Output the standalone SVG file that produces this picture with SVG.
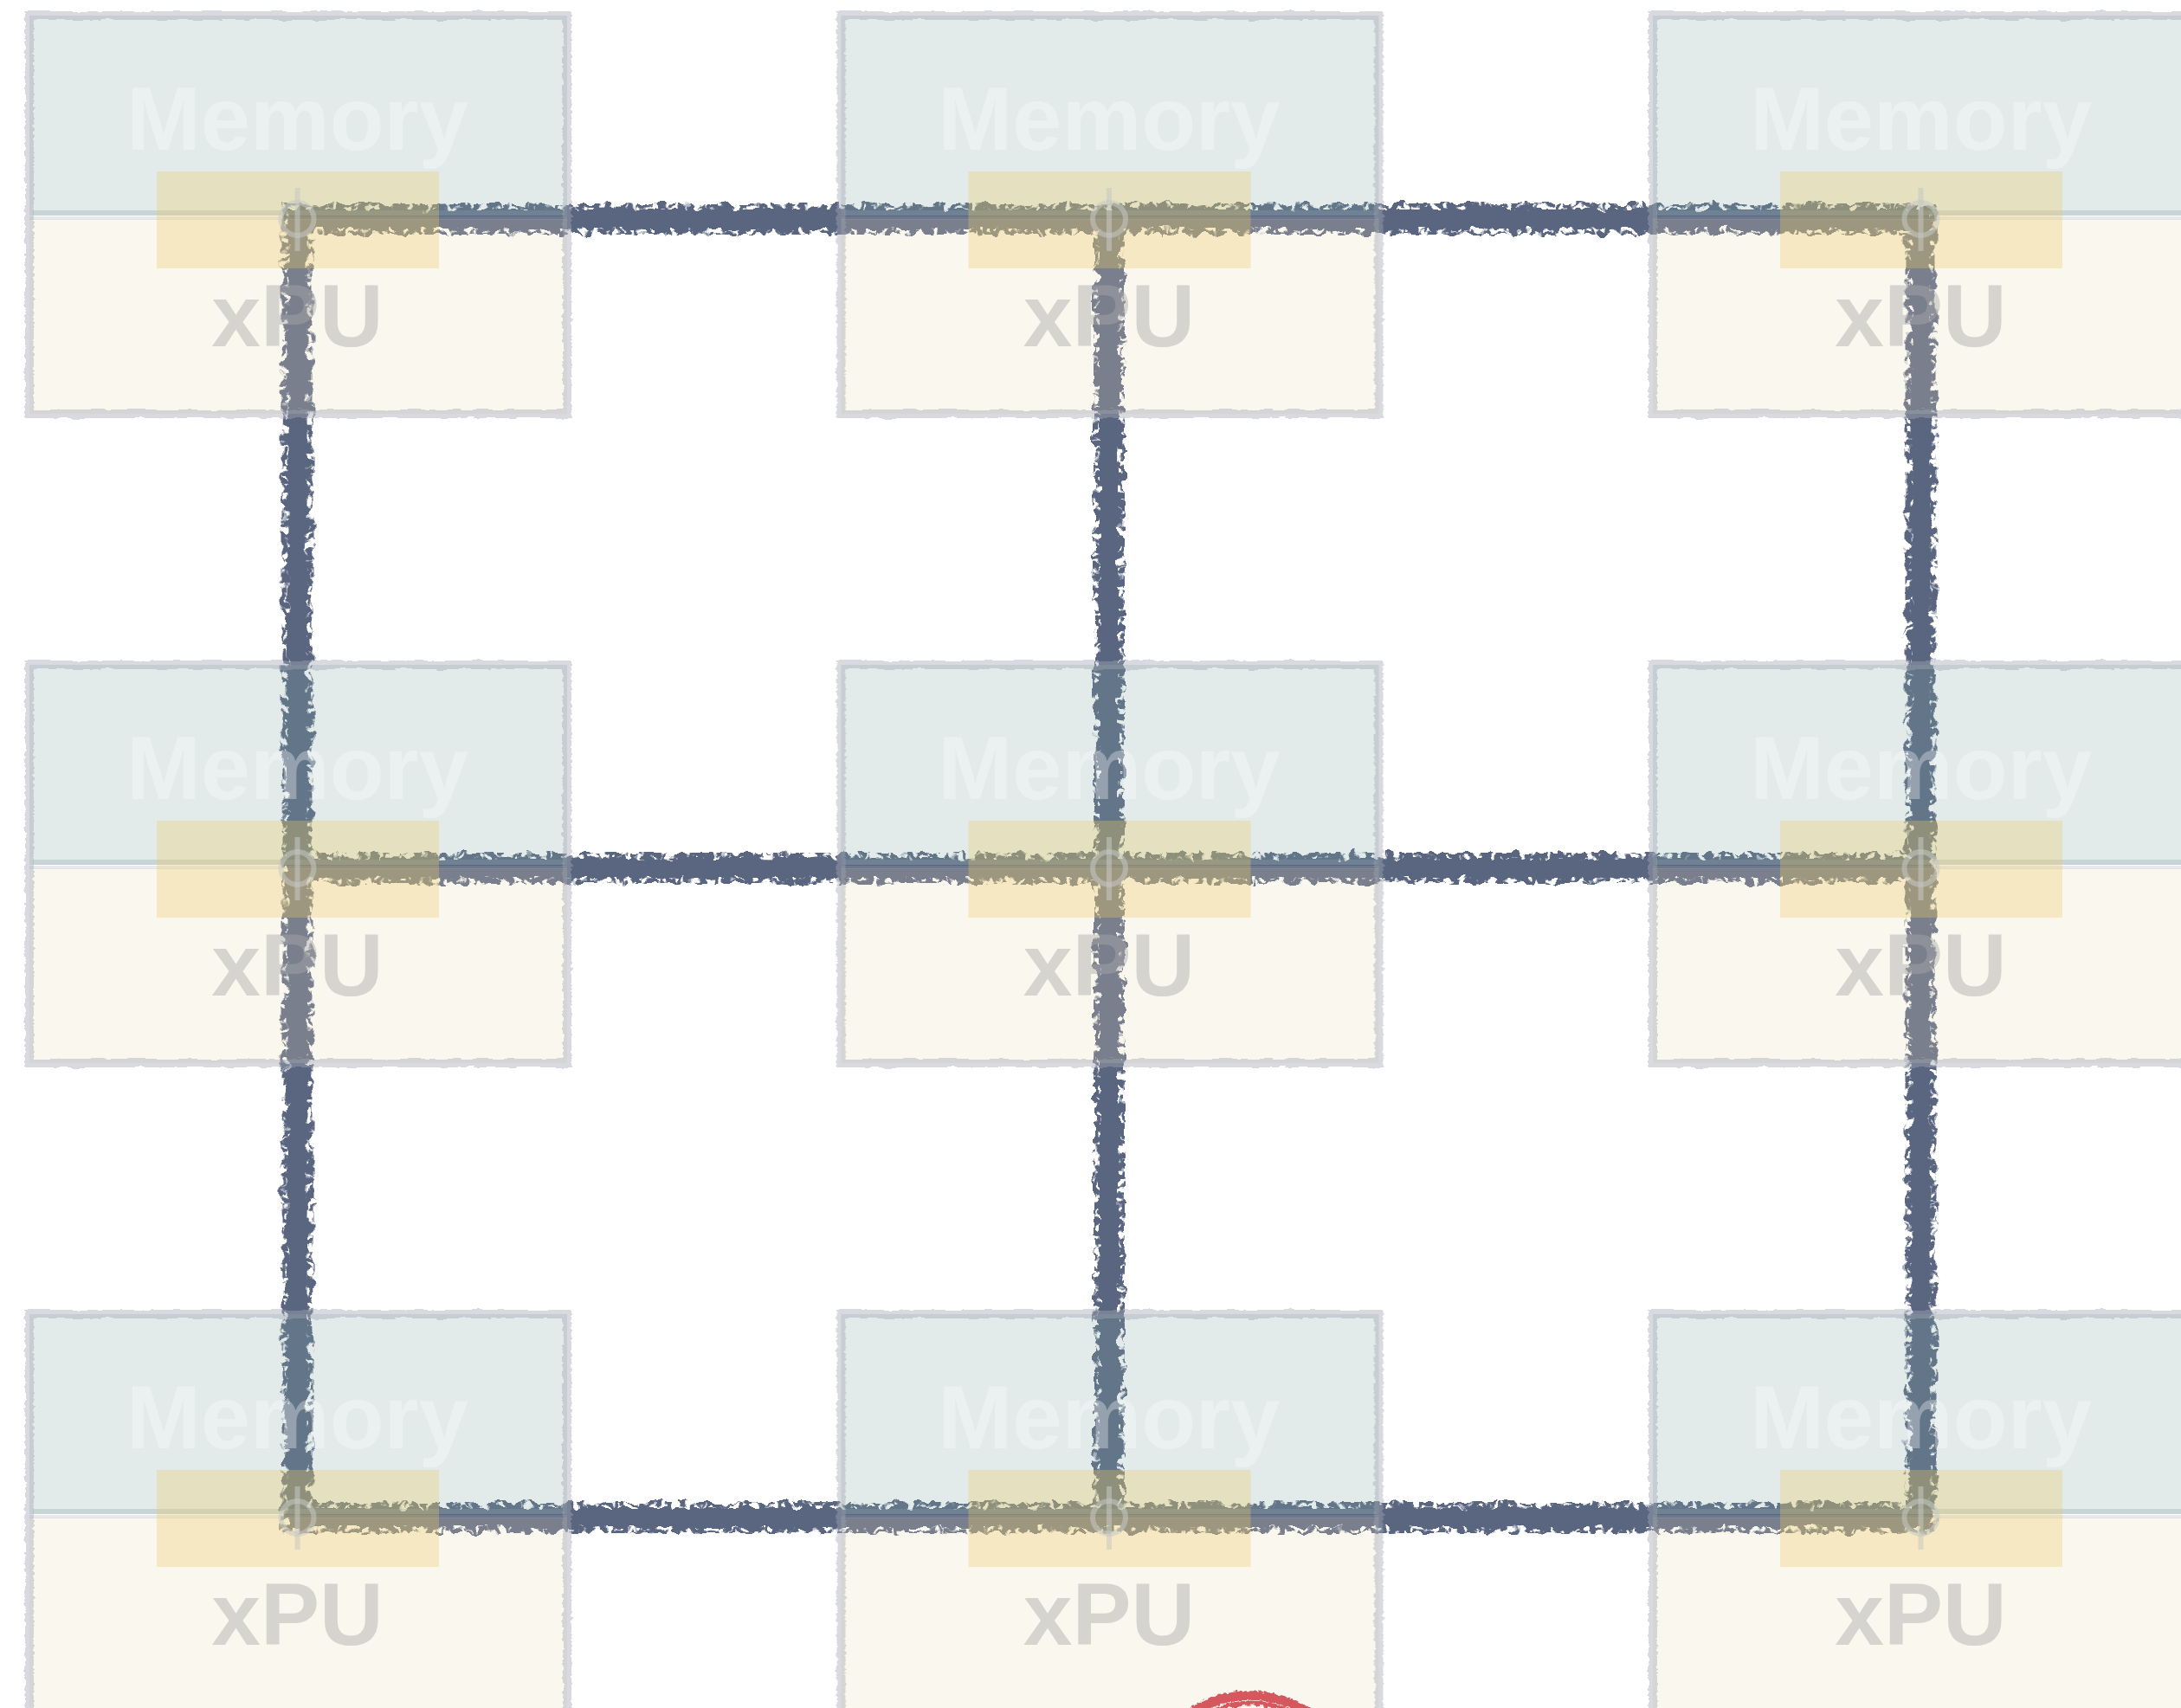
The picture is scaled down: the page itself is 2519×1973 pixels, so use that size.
<svg xmlns="http://www.w3.org/2000/svg" width="2519" height="1973" viewBox="0 0 2519 1973">
<defs>
<style>
.frame{fill:none;stroke:#a2a8b3;stroke-opacity:0.42;stroke-width:10}
.frame2{fill:none;stroke:#a2a8b3;stroke-opacity:0.25;stroke-width:4}
.mem{fill:#81a8a4;fill-opacity:0.23}
.xpu{fill:#e6d9b8;fill-opacity:0.22}
.sep{fill:none;stroke:#8aa2ab;stroke-opacity:0.3;stroke-width:6}
.hl{fill:#ecca64;fill-opacity:0.32}
.tmem{font-family:"Liberation Sans",Arial,Helvetica,sans-serif;font-weight:bold;font-size:103px;fill:#ffffff;fill-opacity:0.32;text-anchor:middle}
.txpu{font-family:"Liberation Sans",Arial,Helvetica,sans-serif;font-weight:bold;font-size:102px;fill:#a8a8a8;fill-opacity:0.45;text-anchor:middle}
.port{fill:none;stroke:#c4c8c2;stroke-opacity:0.55;stroke-width:6}
.link{fill:none;stroke:#5a6680;stroke-width:36;stroke-linecap:square}
.red{fill:none;stroke:#d4585d;stroke-width:6}
</style>
<filter id="chalk" filterUnits="userSpaceOnUse" x="0" y="0" width="2519" height="1973" color-interpolation-filters="sRGB">
<feTurbulence type="fractalNoise" baseFrequency="0.07" numOctaves="2" seed="4" result="n1"/>
<feMorphology in="SourceGraphic" operator="erode" radius="7" result="core"/>
<feTurbulence type="fractalNoise" baseFrequency="0.13" numOctaves="2" seed="11" result="n2"/>
<feColorMatrix in="n2" type="matrix" values="0 0 0 0 0  0 0 0 0 0  0 0 0 0 0  0 0 0 -9 5.5" result="m"/>
<feComposite in="SourceGraphic" in2="m" operator="in" result="edge"/>
<feMerge result="both"><feMergeNode in="edge"/><feMergeNode in="core"/></feMerge>
<feDisplacementMap in="both" in2="n1" scale="12" xChannelSelector="R" yChannelSelector="G"/>
</filter>
<filter id="rough" filterUnits="userSpaceOnUse" x="-100" y="-100" width="2800" height="2200" color-interpolation-filters="sRGB">
<feTurbulence type="fractalNoise" baseFrequency="0.05 0.25" numOctaves="2" seed="2" result="n"/>
<feDisplacementMap in="SourceGraphic" in2="n" scale="6" xChannelSelector="R" yChannelSelector="G"/>
</filter>
<filter id="roughred" filterUnits="userSpaceOnUse" x="1300" y="1880" width="300" height="100" color-interpolation-filters="sRGB">
<feTurbulence type="fractalNoise" baseFrequency="0.2" numOctaves="2" seed="5" result="n"/>
<feDisplacementMap in="SourceGraphic" in2="n" scale="6" xChannelSelector="R" yChannelSelector="G"/>
</filter>
</defs>
<rect width="2519" height="1973" fill="#ffffff"/>

<g id="connectors" filter="url(#chalk)">
<path class="link" d="M343.5 253 H1281"/>
<path class="link" d="M1281 253 H2218.5"/>
<path class="link" d="M343.5 1003 H1281"/>
<path class="link" d="M1281 1003 H2218.5"/>
<path class="link" d="M343.5 1753 H1281"/>
<path class="link" d="M1281 1753 H2218.5"/>
<path class="link" d="M343.5 253 V1003"/>
<path class="link" d="M343.5 1003 V1753"/>
<path class="link" d="M1281 253 V1003"/>
<path class="link" d="M1281 1003 V1753"/>
<path class="link" d="M2218.5 253 V1003"/>
<path class="link" d="M2218.5 1003 V1753"/>
</g>

<g id="node-r1c1">
<rect class="mem" x="34" y="18" width="621" height="231"/>
<rect class="xpu" x="34" y="253" width="621" height="225"/>
<path class="sep" d="M38 246 H652"/>
<rect class="frame" x="34" y="18" width="621" height="460" filter="url(#rough)"/>
<path class="frame2" d="M34 252 H655"/>
<rect class="hl" x="181" y="198" width="326" height="112"/>
<text class="tmem" x="343.5" y="173">Memory</text>
<text class="txpu" x="343.5" y="400">xPU</text>
<g class="port"><circle cx="343.5" cy="253" r="19"/><path d="M343.5 217 V290"/></g>
</g>

<g id="node-r1c2" transform="translate(937.5,0)">
<rect class="mem" x="34" y="18" width="621" height="231"/>
<rect class="xpu" x="34" y="253" width="621" height="225"/>
<path class="sep" d="M38 246 H652"/>
<rect class="frame" x="34" y="18" width="621" height="460" filter="url(#rough)"/>
<path class="frame2" d="M34 252 H655"/>
<rect class="hl" x="181" y="198" width="326" height="112"/>
<text class="tmem" x="343.5" y="173">Memory</text>
<text class="txpu" x="343.5" y="400">xPU</text>
<g class="port"><circle cx="343.5" cy="253" r="19"/><path d="M343.5 217 V290"/></g>
</g>

<g id="node-r1c3" transform="translate(1875,0)">
<rect class="mem" x="34" y="18" width="621" height="231"/>
<rect class="xpu" x="34" y="253" width="621" height="225"/>
<path class="sep" d="M38 246 H652"/>
<rect class="frame" x="34" y="18" width="621" height="460" filter="url(#rough)"/>
<path class="frame2" d="M34 252 H655"/>
<rect class="hl" x="181" y="198" width="326" height="112"/>
<text class="tmem" x="343.5" y="173">Memory</text>
<text class="txpu" x="343.5" y="400">xPU</text>
<g class="port"><circle cx="343.5" cy="253" r="19"/><path d="M343.5 217 V290"/></g>
</g>

<g id="node-r2c1" transform="translate(0,750)">
<rect class="mem" x="34" y="18" width="621" height="231"/>
<rect class="xpu" x="34" y="253" width="621" height="225"/>
<path class="sep" d="M38 246 H652"/>
<rect class="frame" x="34" y="18" width="621" height="460" filter="url(#rough)"/>
<path class="frame2" d="M34 252 H655"/>
<rect class="hl" x="181" y="198" width="326" height="112"/>
<text class="tmem" x="343.5" y="173">Memory</text>
<text class="txpu" x="343.5" y="400">xPU</text>
<g class="port"><circle cx="343.5" cy="253" r="19"/><path d="M343.5 217 V290"/></g>
</g>

<g id="node-r2c2" transform="translate(937.5,750)">
<rect class="mem" x="34" y="18" width="621" height="231"/>
<rect class="xpu" x="34" y="253" width="621" height="225"/>
<path class="sep" d="M38 246 H652"/>
<rect class="frame" x="34" y="18" width="621" height="460" filter="url(#rough)"/>
<path class="frame2" d="M34 252 H655"/>
<rect class="hl" x="181" y="198" width="326" height="112"/>
<text class="tmem" x="343.5" y="173">Memory</text>
<text class="txpu" x="343.5" y="400">xPU</text>
<g class="port"><circle cx="343.5" cy="253" r="19"/><path d="M343.5 217 V290"/></g>
</g>

<g id="node-r2c3" transform="translate(1875,750)">
<rect class="mem" x="34" y="18" width="621" height="231"/>
<rect class="xpu" x="34" y="253" width="621" height="225"/>
<path class="sep" d="M38 246 H652"/>
<rect class="frame" x="34" y="18" width="621" height="460" filter="url(#rough)"/>
<path class="frame2" d="M34 252 H655"/>
<rect class="hl" x="181" y="198" width="326" height="112"/>
<text class="tmem" x="343.5" y="173">Memory</text>
<text class="txpu" x="343.5" y="400">xPU</text>
<g class="port"><circle cx="343.5" cy="253" r="19"/><path d="M343.5 217 V290"/></g>
</g>

<g id="node-r3c1" transform="translate(0,1500)">
<rect class="mem" x="34" y="18" width="621" height="231"/>
<rect class="xpu" x="34" y="253" width="621" height="225"/>
<path class="sep" d="M38 246 H652"/>
<rect class="frame" x="34" y="18" width="621" height="462" filter="url(#rough)"/>
<path class="frame2" d="M34 252 H655"/>
<rect class="hl" x="181" y="198" width="326" height="112"/>
<text class="tmem" x="343.5" y="173">Memory</text>
<text class="txpu" x="343.5" y="400">xPU</text>
<g class="port"><circle cx="343.5" cy="253" r="19"/><path d="M343.5 217 V290"/></g>
</g>

<g id="node-r3c2" transform="translate(937.5,1500)">
<rect class="mem" x="34" y="18" width="621" height="231"/>
<rect class="xpu" x="34" y="253" width="621" height="225"/>
<path class="sep" d="M38 246 H652"/>
<rect class="frame" x="34" y="18" width="621" height="462" filter="url(#rough)"/>
<path class="frame2" d="M34 252 H655"/>
<rect class="hl" x="181" y="198" width="326" height="112"/>
<text class="tmem" x="343.5" y="173">Memory</text>
<text class="txpu" x="343.5" y="400">xPU</text>
<g class="port"><circle cx="343.5" cy="253" r="19"/><path d="M343.5 217 V290"/></g>
</g>

<g id="node-r3c3" transform="translate(1875,1500)">
<rect class="mem" x="34" y="18" width="621" height="231"/>
<rect class="xpu" x="34" y="253" width="621" height="225"/>
<path class="sep" d="M38 246 H652"/>
<rect class="frame" x="34" y="18" width="621" height="462" filter="url(#rough)"/>
<path class="frame2" d="M34 252 H655"/>
<rect class="hl" x="181" y="198" width="326" height="112"/>
<text class="tmem" x="343.5" y="173">Memory</text>
<text class="txpu" x="343.5" y="400">xPU</text>
<g class="port"><circle cx="343.5" cy="253" r="19"/><path d="M343.5 217 V290"/></g>
</g>

<g id="red-mark" filter="url(#roughred)">
<path class="red" d="M1372 1978 A128 128 0 0 1 1515 1978"/>
<path class="red" d="M1380 1980 A118 118 0 0 1 1509 1980"/>
<path class="red" d="M1390 1982 A108 108 0 0 1 1500 1982" style="stroke-width:5"/>
</g>
</svg>
